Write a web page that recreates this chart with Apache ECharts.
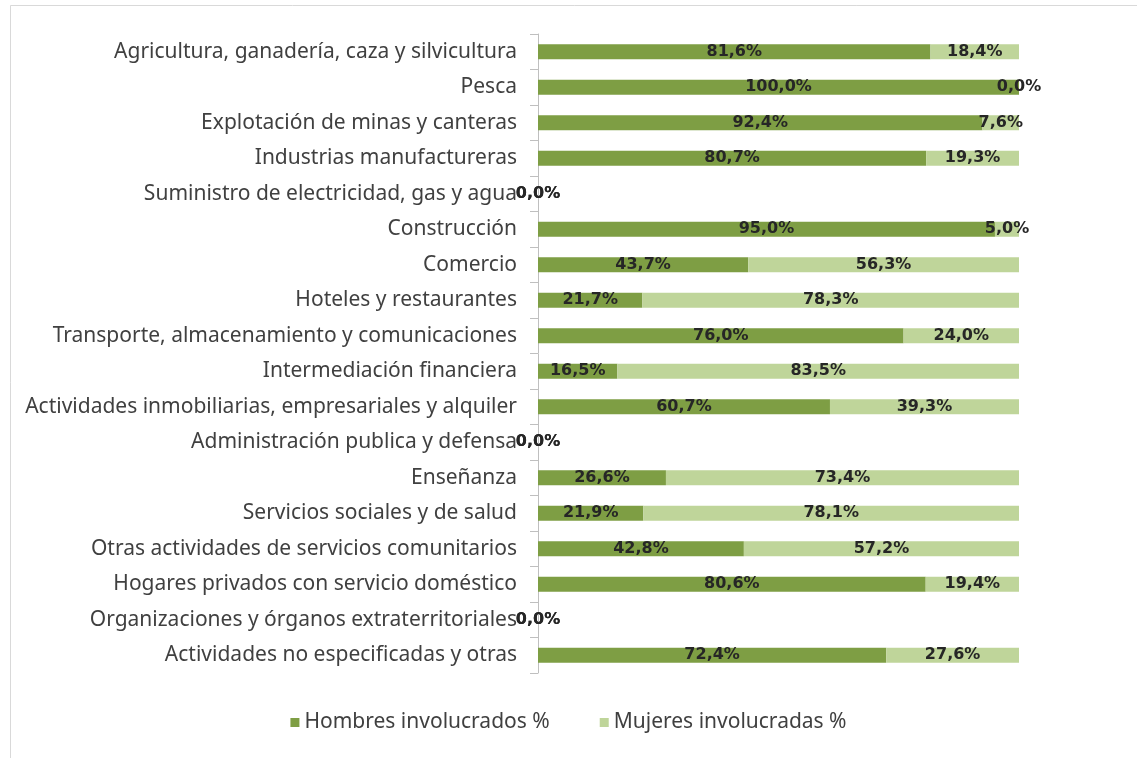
<!DOCTYPE html>
<html>
<head>
<meta charset="utf-8">
<script src="https://cdn.jsdelivr.net/npm/echarts@6/dist/echarts.min.js"></script>
<style>
html,body{margin:0;padding:0;background:#fff;}
#main{width:1137px;height:758px;}
</style>
</head>
<body>
<div id="main"></div>
<script>
const categories = [
  'Agricultura, ganadería, caza y silvicultura',
  'Pesca',
  'Explotación de minas y canteras',
  'Industrias manufactureras',
  'Suministro de electricidad, gas y agua',
  'Construcción',
  'Comercio',
  'Hoteles y restaurantes',
  'Transporte, almacenamiento y comunicaciones',
  'Intermediación financiera',
  'Actividades inmobiliarias, empresariales y alquiler',
  'Administración publica y defensa',
  'Enseñanza',
  'Servicios sociales y de salud',
  'Otras actividades de servicios comunitarios',
  'Hogares privados con servicio doméstico',
  'Organizaciones y órganos extraterritoriales',
  'Actividades no especificadas y otras'
];
const hombres = [81.6, 100.0, 92.4, 80.7, 0.0, 95.0, 43.7, 21.7, 76.0, 16.5, 60.7, 0.0, 26.6, 21.9, 42.8, 80.6, 0.0, 72.4];
const mujeres = [18.4, 0.0, 7.6, 19.3, 0.0, 5.0, 56.3, 78.3, 24.0, 83.5, 39.3, 0.0, 73.4, 78.1, 57.2, 19.4, 0.0, 27.6];
const seriesNames = ['Hombres involucrados %', 'Mujeres involucradas %'];

const fmt = p => p.value.toFixed(1).replace('.', ',') + '%';
const labelStyle = {
  show: true,
  position: 'inside',
  formatter: fmt,
  fontFamily: 'DejaVu Sans',
  fontWeight: 'bold',
  fontSize: 16,
  color: '#262626'
};

const chart = echarts.init(document.getElementById('main'));
chart.setOption({
  animation: false,
  backgroundColor: '#fff',
  graphic: [{
    type: 'rect',
    shape: {x: 10.5, y: 5.5, width: 1200, height: 800},
    style: {fill: 'none', stroke: '#d9d9d9', lineWidth: 1},
    silent: true
  }],
  grid: {left: 538, right: 118, top: 34, bottom: 85, containLabel: false},
  legend: {
    top: 707,
    left: 'center',
    itemWidth: 9,
    itemHeight: 9,
    itemGap: 50,
    icon: 'rect',
    textStyle: {fontFamily: 'Noto Sans', fontSize: 21, color: '#404040'},
    data: seriesNames
  },
  xAxis: {
    type: 'value', min: 0, max: 100,
    show: false
  },
  yAxis: {
    type: 'category',
    data: categories,
    inverse: true,
    axisLine: {show: true, lineStyle: {color: '#bfbfbf'}},
    axisTick: {show: true, length: 8, lineStyle: {color: '#bfbfbf'}},
    axisLabel: {margin: 21, fontFamily: 'Noto Sans', fontSize: 21, color: '#404040'}
  },
  series: [
    {
      name: seriesNames[0], type: 'bar', stack: 'total', data: hombres,
      barWidth: 15,
      itemStyle: {color: '#7e9e44'},
      label: labelStyle
    },
    {
      name: seriesNames[1], type: 'bar', stack: 'total', data: mujeres,
      barWidth: 15,
      itemStyle: {color: '#bfd59a'},
      label: labelStyle
    }
  ]
});
</script>
</body>
</html>
